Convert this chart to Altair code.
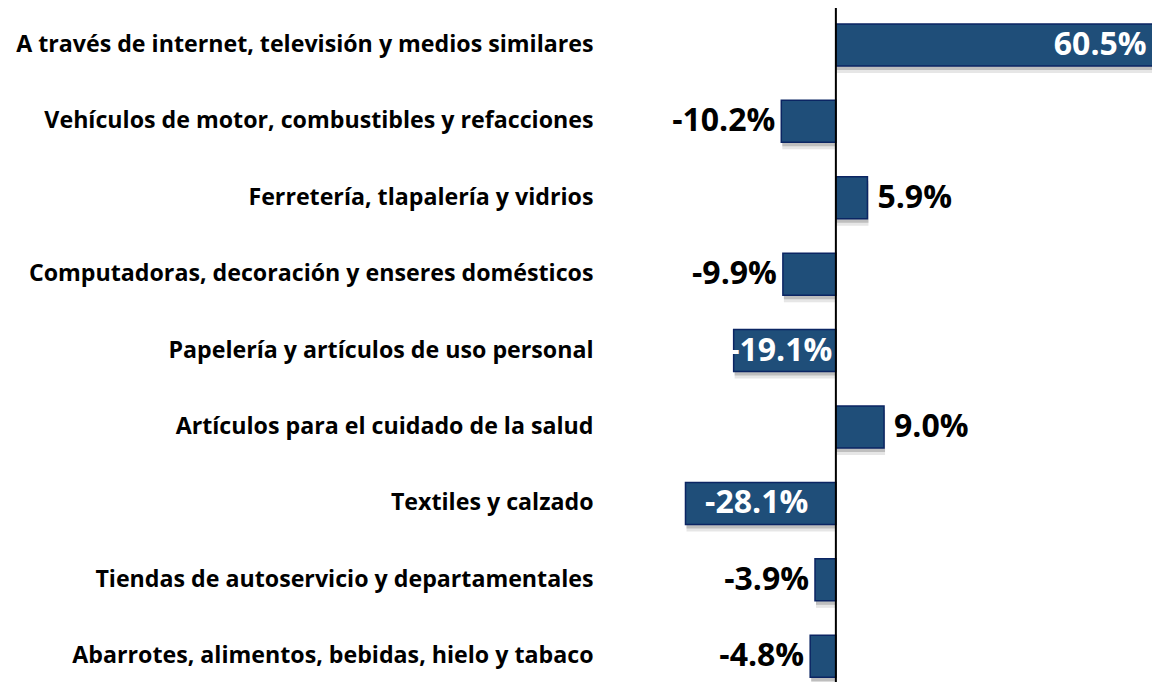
import altair as alt
import pandas as pd

categories = [
    "A través de internet, televisión y medios similares",
    "Vehículos de motor, combustibles y refacciones",
    "Ferretería, tlapalería y vidrios",
    "Computadoras, decoración y enseres domésticos",
    "Papelería y artículos de uso personal",
    "Artículos para el cuidado de la salud",
    "Textiles y calzado ",
    "Tiendas de autoservicio y departamentales",
    "Abarrotes, alimentos, bebidas, hielo y tabaco",
]
values = [60.5, -10.2, 5.9, -9.9, -19.1, 9.0, -28.1, -3.9, -4.8]

df = pd.DataFrame({"cat": categories, "val": values})
df["label"] = [f"{v:.1f}%" for v in values]

W, H = 512, 674
x_scale = alt.Scale(domain=[-36.6, 59.07], nice=False, zero=False)
y_scale = alt.Scale(paddingInner=0.45, paddingOuter=0.135, align=0.77)

X = alt.X("val:Q", scale=x_scale, axis=None)
Y = alt.Y("cat:N", sort=categories, scale=y_scale,
          axis=alt.Axis(title=None, domain=False, ticks=False, labelPadding=47, grid=False,
                        labelFont="Open Sans", labelFontSize=23.2, labelFontWeight="bold",
                        labelColor="#000000", labelLimit=0, labelAlign="right"))

base = alt.Chart(df)

shadow2 = base.mark_bar(color="#c8c8c8", opacity=0.45, yOffset=7, xOffset=1, clip=True).encode(
    x=X, x2=alt.datum(0), y=Y)
shadow = base.mark_bar(color="#8f8f8f", opacity=0.45, yOffset=4, xOffset=1, clip=True).encode(
    x=X, x2=alt.datum(0), y=Y)
bars = base.mark_bar(color="#1F4E79", stroke="#0B2563", strokeWidth=1.5, clip=True).encode(
    x=X, x2=alt.datum(0), y=Y)

txt_kw = dict(font="Open Sans", fontSize=32, fontWeight="bold", baseline="middle")
out_pos = base.transform_filter("datum.val > 0 && datum.val < 15").mark_text(
    align="left", dx=10, color="#000000", **txt_kw).encode(x=X, y=Y, text="label:N")
out_neg = base.transform_filter("datum.val < 0 && datum.val > -15").mark_text(
    align="right", dx=-6, color="#000000", **txt_kw).encode(x=X, y=Y, text="label:N")
in_pos = base.transform_filter("datum.val >= 15").mark_text(
    align="right", dx=-13, color="#ffffff", **txt_kw).encode(x=X, y=Y, text="label:N")
in_neg = base.transform_filter("datum.val <= -15").transform_calculate(
    mid="datum.val / 2").mark_text(
    align="center", dx=-4, color="#ffffff", **txt_kw).encode(
    x=alt.X("mid:Q", scale=x_scale, axis=None), y=Y, text="label:N")

zero = alt.Chart(pd.DataFrame({"z": [0]})).mark_rule(color="#000000", strokeWidth=2).encode(
    x=alt.X("z:Q", scale=x_scale, axis=None), y=alt.value(0), y2=alt.value(H))

chart = alt.layer(shadow2, shadow, bars, zero, out_pos, out_neg, in_pos, in_neg).properties(
    width=W, height=H,
    background="#ffffff",
    autosize=alt.AutoSizeParams(type="none"),
    padding={"left": 632, "top": 0, "right": 0, "bottom": 0},
).configure_view(strokeWidth=0)

chart.save("out.html", embed_options={"renderer": "svg", "actions": False})
